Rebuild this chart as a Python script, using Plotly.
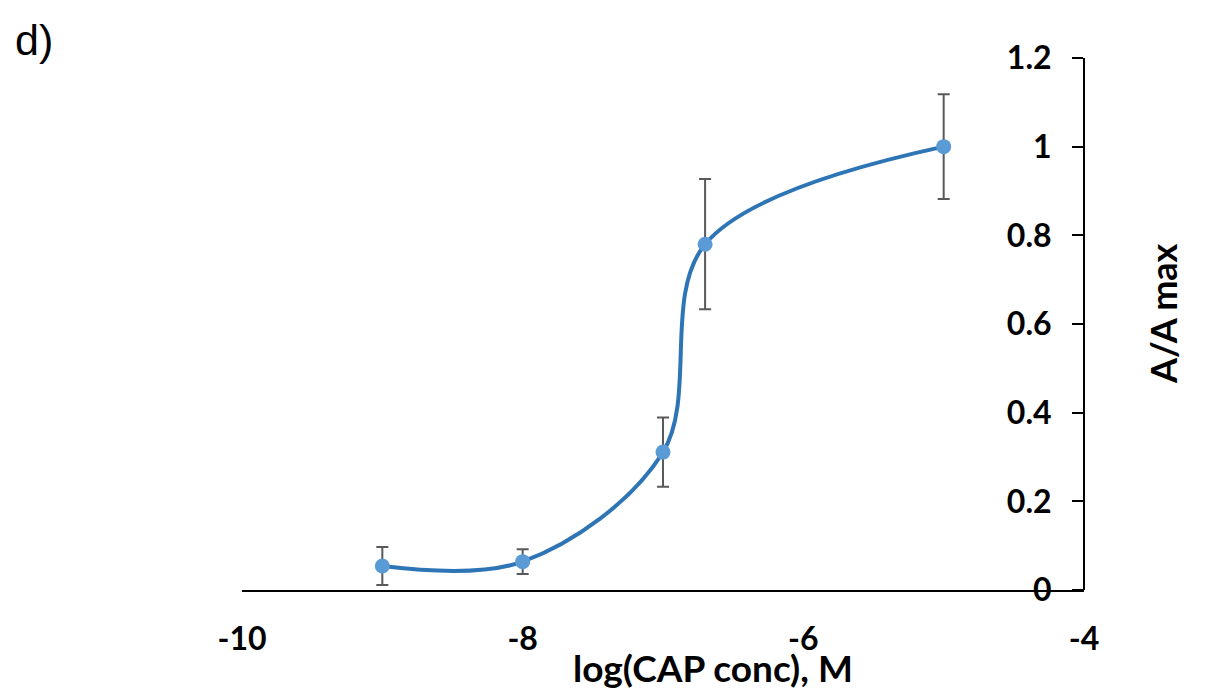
import plotly.graph_objects as go

# Data
log_conc = [-9.0, -8.0, -7.0, -6.7, -5.0]
a_ratio = [0.054, 0.064, 0.311, 0.780, 1.000]
a_err = [0.043, 0.028, 0.078, 0.147, 0.118]

x_ticks = [-10, -8, -6, -4]
y_ticks = [0, 0.2, 0.4, 0.6, 0.8, 1, 1.2]
y_tick_text = ["0", "0.2", "0.4", "0.6", "0.8", "1", "1.2"]

FONT = "Lato"

fig = go.Figure()

# error bars (drawn first, under the curve)
fig.add_trace(go.Scatter(
    x=log_conc, y=a_ratio, mode="markers",
    marker=dict(color="rgba(0,0,0,0)", size=1),
    error_y=dict(type="data", array=a_err, visible=True,
                 color="#595959", thickness=2, width=6),
    showlegend=False, hoverinfo="skip",
))

# smooth curve with markers
fig.add_trace(go.Scatter(
    x=log_conc, y=a_ratio, mode="lines+markers",
    line=dict(color="#2E75B6", width=4, shape="spline", smoothing=1),
    marker=dict(color="#5B9BD5", size=15),
    showlegend=False,
))

L, R, T, B = 242, 123, 58, 100
W, H = 1207, 690
pw, ph = W - L - R, H - T - B

def px_x(px):
    return (px - L) / pw

def px_y(py):
    return (H - B - py) / ph

fig.update_layout(
    width=W, height=H,
    margin=dict(l=L, r=R, t=T, b=B, autoexpand=False),
    paper_bgcolor="white", plot_bgcolor="white",
    font=dict(family=FONT, color="black"),
    xaxis=dict(
        range=[-10, -4], tickvals=x_ticks, ticktext=[str(v) for v in x_ticks],
        showgrid=False, zeroline=False, showline=True,
        linecolor="black", linewidth=2, ticks="",
        tickfont=dict(family=FONT, size=32, color="black", weight="bold"),
        ticklabelstandoff=20, anchor="y",
    ),
    yaxis=dict(
        range=[0, 1.2], tickvals=y_ticks, ticktext=y_tick_text,
        showgrid=False, zeroline=False, showline=True,
        linecolor="black", linewidth=2,
        ticks="outside", ticklen=11, tickwidth=2, tickcolor="black",
        anchor="free", position=1.0, side="left",
        tickfont=dict(family=FONT, size=32, color="black", weight="bold"),
        ticklabelstandoff=14,
    ),
    annotations=[
        dict(text="d)", xref="paper", yref="paper",
             x=px_x(13), y=px_y(40), xanchor="left", yanchor="middle",
             showarrow=False,
             font=dict(family="Liberation Sans", size=43, color="black")),
        dict(text="A/A max", xref="paper", yref="paper",
             x=px_x(1163), y=px_y(314), xanchor="center", yanchor="middle",
             textangle=-90, showarrow=False,
             font=dict(family=FONT, size=36, color="black", weight="bold")),
        dict(text="log(CAP conc), M", xref="paper", yref="paper",
             x=px_x(713), y=px_y(667), xanchor="center", yanchor="middle",
             showarrow=False,
             font=dict(family=FONT, size=37, color="black", weight="bold")),
    ],
)

fig.write_html("out.html")
